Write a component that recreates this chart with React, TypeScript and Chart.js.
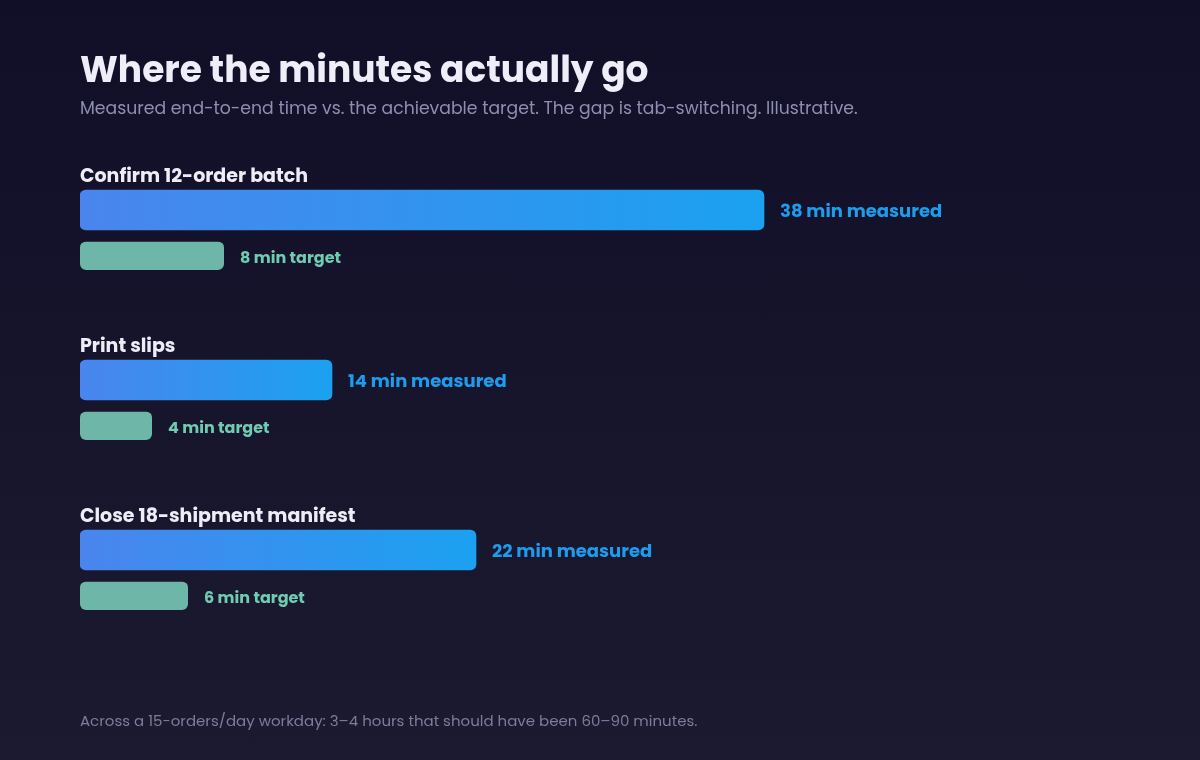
import React, { useEffect, useRef } from "react";
import { Chart, registerables } from "chart.js";

Chart.register(...registerables);

const TITLE = "Where the minutes actually go";
const SUBTITLE =
  "Measured end-to-end time vs. the achievable target. The gap is tab-switching. Illustrative.";
const FOOTNOTE =
  "Across a 15-orders/day workday: 3\u20134 hours that should have been 60\u201390 minutes.";

const tasks = ["Confirm 12-order batch", "Print slips", "Close 18-shipment manifest"];
const measuredMinutes = [38, 14, 22];
const targetMinutes = [8, 4, 6];
const measuredSuffix = "min measured";
const targetSuffix = "min target";

const FONT = "Poppins, Inter, 'Noto Sans', sans-serif";

export default function App() {
  const canvasRef = useRef<HTMLCanvasElement | null>(null);

  useEffect(() => {
    document.body.style.margin = "0";
    const canvas = canvasRef.current;
    if (!canvas) return;

    const GAP = 12;

    const labelsPlugin = {
      id: "rowLabels",
      afterDatasetsDraw(chart: any) {
        const c = chart.ctx;
        const yScale = chart.scales.y;
        c.save();
        c.font = `700 19px ${FONT}`;
        c.fillStyle = "#EEEDF7";
        c.textAlign = "left";
        c.textBaseline = "alphabetic";
        tasks.forEach((t, i) => {
          const p = yScale.getPixelForValue(i);
          c.fillText(t, chart.chartArea.left, p - 40 - 8);
        });
        c.textBaseline = "middle";
        chart.data.datasets.forEach((ds: any, di: number) => {
          const meta = chart.getDatasetMeta(di);
          meta.data.forEach((el: any, i: number) => {
            const { x, y, height } = el.getProps(["x", "y", "height"], true);
            let cy = y;
            if (di === 1) cy = (y - height / 2 + GAP + y + height / 2) / 2;
            const v = ds.data[i];
            const txt = di === 0 ? `${v} ${measuredSuffix}` : `${v} ${targetSuffix}`;
            c.font = di === 0 ? `700 18px ${FONT}` : `700 16px ${FONT}`;
            c.fillStyle = di === 0 ? "#1E9BEB" : "#70CBB0";
            c.fillText(txt, x + 16, cy + (di === 0 ? 2 : 2.5));
          });
        });
        c.restore();
      },
    };

    const chart = new Chart(canvas, {
      type: "bar",
      data: {
        labels: tasks,
        datasets: [
          {
            label: "Measured",
            data: measuredMinutes,
            barThickness: 40,
            borderRadius: 6,
            borderSkipped: false,
            backgroundColor: (ctx: any) => {
              const chart = ctx.chart;
              const xs = chart.scales && chart.scales.x;
              const v = measuredMinutes[ctx.dataIndex];
              if (!xs || ctx.type !== "data" || v === undefined) return "#3592EF";
              const x0 = xs.getPixelForValue(0);
              const x1 = xs.getPixelForValue(v);
              if (!isFinite(x0) || !isFinite(x1) || x1 <= x0) return "#3592EF";
              const g = chart.ctx.createLinearGradient(x0, 0, x1, 0);
              g.addColorStop(0, "#4A85EE");
              g.addColorStop(1, "#1BA1F0");
              return g;
            },
          },
          {
            label: "Target",
            data: targetMinutes,
            barThickness: 40,
            borderWidth: { top: GAP, left: 0, right: 0, bottom: 0 },
            borderColor: "rgba(0,0,0,0)",
            borderSkipped: false,
            borderRadius: { topLeft: 6 + GAP, topRight: 6 + GAP, bottomLeft: 6, bottomRight: 6 },
            backgroundColor: "#6DB6A8",
          },
        ],
      },
      options: {
        indexAxis: "y",
        animation: false,
        responsive: false,
        events: [],
        layout: { padding: { left: 80, right: 220, top: 145, bottom: 105 } },
        scales: {
          x: { display: false, min: 0, max: 50, grid: { display: false } },
          y: { display: false, grid: { display: false } },
        },
        plugins: {
          legend: { display: false },
          title: { display: false },
          tooltip: { enabled: false },
        },
      },
      plugins: [labelsPlugin],
    } as any);

    return () => chart.destroy();
  }, []);

  return (
    <div
      style={{
        position: "absolute",
        left: 0,
        top: 0,
        width: 1200,
        height: 760,
        overflow: "hidden",
        background: "linear-gradient(180deg, #100F27 0%, #1B1A31 100%)",
        fontFamily: FONT,
      }}
    >
      <canvas
        ref={canvasRef}
        width={1200}
        height={760}
        style={{ position: "absolute", left: 0, top: 0, width: 1200, height: 760 }}
      />
      <div
        style={{
          position: "absolute",
          left: 80,
          top: 48,
          fontSize: 36,
          lineHeight: "44px",
          fontWeight: 700,
          color: "#EEEDF8",
          whiteSpace: "nowrap",
        }}
      >
        {TITLE}
      </div>
      <div
        style={{
          position: "absolute",
          left: 80,
          top: 97,
          fontSize: 17.25,
          lineHeight: "22px",
          fontWeight: 400,
          color: "#8F8DB0",
          whiteSpace: "nowrap",
        }}
      >
        {SUBTITLE}
      </div>
      <div
        style={{
          position: "absolute",
          left: 80,
          top: 711,
          fontSize: 15,
          lineHeight: "20px",
          fontWeight: 400,
          color: "#7E7C9B",
          whiteSpace: "nowrap",
        }}
      >
        {FOOTNOTE}
      </div>
    </div>
  );
}
